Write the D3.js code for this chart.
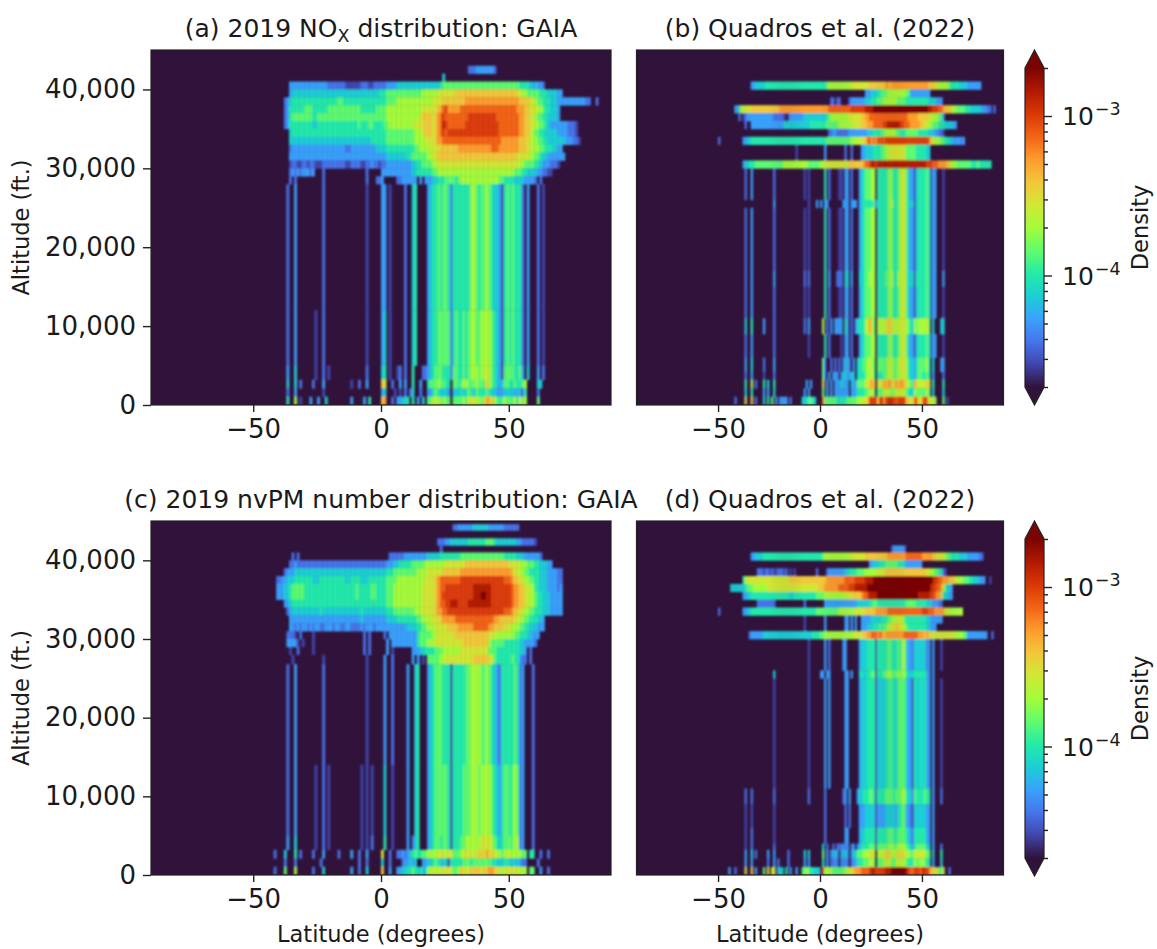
<!DOCTYPE html>
<html>
<head>
<meta charset="utf-8">
<script src="https://cdn.jsdelivr.net/npm/d3@7"></script>
<style>
body { margin: 0; background: #fff; }
text { font-family: "DejaVu Sans", sans-serif; fill: #1a1a1a; }
</style>
</head>
<body>
<div id="chart"></div>
<script>
// turbo colormap samples (matplotlib flavour, d3's own goes almost black at 0)
const turboStops = ["#30123b","#4145ab","#4675ed","#39a2fc","#1bcfd4","#24eca6","#61fc6c","#a4fc3b","#d1e834","#f3c63a","#fe9b2d","#f36315","#d93806","#b11901","#7a0402"];

// density, one character per cell: 1-9, a-e index this list, "." is nothing
const densityLevels = [2.8e-5, 3.8e-5, 5.3e-5, 7.4e-5, 1e-4, 1.4e-4, 2e-4, 2.8e-4, 3.8e-4, 5.3e-4, 7.4e-4, 1e-3, 1.4e-3, 2e-3];
const levelCodes = "123456789abcde";

const latTicks = [-50, 0, 50];
const altTicks = [0, 10000, 20000, 30000, 40000];
const cbarMajor = [1e-4, 1e-3];
const cbarMinor = [2e-5, 3e-5, 4e-5, 5e-5, 6e-5, 7e-5, 8e-5, 9e-5, 2e-4, 3e-4, 4e-4, 5e-4, 6e-4, 7e-4, 8e-4, 9e-4, 2e-3];

// rows run top to bottom between the altitude edges (kft). Each row has groups of
// 10 degrees starting at -50 latitude, "_" is an empty group.
const noxGaiaAlt = [43,42,41,40,39,38,37,36,35,34,33,32,31,30,29,28,12,5,3.2,2.1,1.05,0];
const noxGaiaRows = [
"_ _ _ _ _ _ _ _ ....222333 33332",
"_ _ _ _ _ _ _ ....4.....",
"_ ....333333 3333333332 2222221111 1122211222 2233334444 4444444444 4445666666 6666666666 6666666666 6666555543 4332",
"_ ....344444 4444444444 4444444444 4444444445 5566666666 6666667777 7788888889 9999999999 9999999999 9998877666 6655544443 3",
"_ ..23455555 5555555555 5556655555 5555555555 5566667777 7777777777 8888999999 999aaaaaaa aaaaaaaaaa aaaa999988 7665554443 3333333333 22..2",
"_ ..23555555 6665555556 6666666666 6655555566 6677777777 7777778888 889abcaaaa abbbbbbbbb bbbbbbbbbb bbbaaa9988 8776554443",
"_ ..23566666 6665566666 6666666666 6666666666 6677777777 7777789999 89abcbbbbb bbbbcccccc cccccbbbbb bbbbaa9988 7665544443",
"_ ..23555555 5554455555 5555555555 5655566555 5667777777 7778888999 89abdcbbbb bbbccccccc ccccccbbbb bbbbaa9988 7766543333 3332221",
"_ ....455555 5555555555 5555555555 5555555555 5566666666 6667778999 89abcbcccc cccccccccc ccccccbbbb bbbbaa9987 6655444443 3332221",
"_ ....444444 4444444444 4444444444 4444445555 5566666666 6667777888 89aabbbbbb bbbbbbbbbb bbbbbbbaaa aaaa999887 7665544444 44333221",
"_ ....233333 3333333333 3333332233 3333333344 4455555555 5556677778 8889999999 aaaaaaaaaa aaabbbaaaa aaaa999887 7766555443 3",
"_ ....333333 3333333333 3333333333 3333333333 3344444444 5566666677 8899999999 9999999999 9999999999 9998888877 6654433333 33",
"_ ....122112 2122111222 2222221122 2211223221 2233333333 3344556666 7788888888 8888888888 8888888888 8888776666 5543332221",
"_ ....232323 3323...2.. _ ....2..... 3333333333 3344555555 6677777777 7777777777 7777777777 7766655444 4332211",
"_ ....2.2... .......2.. _ ....2...22 3.....2233 3333.3.333 4455566665 6777777777 7777776655 5544443333 2.2",
"_ ...2..3... .......2.. _ ....1..... 33.1.....2 ..45....34 5565665255 5555577656 6765443156 565552.3.. .2.1",
"_ ...2..3... ....1..2.. _ ....1..... 34.1.....2 ..45....34 5566666256 5565677667 7776543156 565552.3.. .2.1",
"_ ...3..4... ....1..2.1 _ ....2..... 45.1..12.2 ..5...2234 5666555266 5565677767 7876543166 665563.4.. .3.2",
"_ ...4..4.2. ...2...3.. ........1. .2..3..... 98..2..3.3 ..5..3..56 6676655.66 5677666766 6976543466 5565567... .44",
"_ ...2..3... .......1.. _ _ 34...1.1.2 .24..2..33 5654443.44 4545654655 5654433344 4434325... .2",
"_ ...5..7.1. ..3..3..4. ........3. ...3.5.... 9a..2.3344 5.5.3.4.66 7876766.66 6676888776 8a99765676 6675867... .6"
];

const noxQuadrosAlt = [41,40,39,38,37,36,35,34,33,31,30,26,25,17,15,11,9,6,4.2,3.2,2.1,1.05,0];
const noxQuadrosRows = [
"_ ......3344 4445555555 5555555555 5555555555 5556777777 7777788888 8888999999 99aa9aaaaa aaaaaaaaaa aaa9998877 7776555544 443333333.",
"_ _ _ _ _ _ _ ..33344455 6667777777 7766333333 3333",
"_ _ _ _ _ .....22.22 ....233333 3344455566 6777777766 6655555555 5554444333",
"........33 5788889999 9999999999 aaaaaaaaaa aaaaaaaaaa aaaabbbbbb bbbbbccccc ccddddeeee eeeeeeeeee eeeeeeeeee eeeddcccbb a999877666 6555444443 3322.2",
"_ 2.12333333 3333333222 221.133333 3344444444 4445677777 7777888888 99aabbbbbb bbbbbbbbbb bbbaaaaa99 9998877766 3",
"_ ...2..3333 3333333333 3344444444 4444455555 5556666667 7777778888 999aaabbbb bccddddddc cbbbaaaaa9 9887766655 5444433",
"_ _ _ _ _ ....223322 2222333333 3334445555 6677777665 5566666655 5554443322 1",
"2......... ..33445555 5555555555 5555555555 5555555555 5556666666 6666677778 889bbabacb cbcccccccc cccccccccc cccb987776 6554433332 3",
"_ _ _ ........1. _ ..3....... ..2..2.... 3344445555 6677888888 8866666555 5544",
"_ ..34455566 6666666666 6677777777 7777666666 7788888888 8888999999 9abbcddcdd dddddddddd dddddddddd ddcccbbbaa aa99777666 6666555655 5555",
"_ ...2..3... .......2.. _ ..1.1..... ..5.2....1 1.33.2...3 4566677.55 5556765567 8864331455 5565133... 1",
"_ _ .......3.. _ ....1...3. 3.33...... .333.333.3 4555556255 5556775567 8864441455 5565133... 1",
"_ ...2..3... .......2.. _ ..1.1..... ..5.2....1 1.33.2...3 4566677.55 5556765567 8864331455 5565133... 1",
"_ ...2..3... .......3.. _ ..2.2..... ..5.3...22 2.44.3...4 4566777.55 5566775577 8864441555 5565133... 3",
"_ ...2..3... .......2.. _ ..1.1..... ..5.2....1 1.33.2...3 4566677.55 5556765567 8864331455 5565133... 1",
"_ ...4..5... ..3....2.. _ ..2.3..... .7.2.3.333 3.53.2.345 5578a86.77 7879987787 8876547677 7786.4...4 4",
"_ ...2..3... .......2.. _ ....1..... ..5.2..... 1.33.2...3 4566677.55 5556765567 8864331455 5565133... 1",
"_ ...3..4... ..2....3.. _ _ .62..2.2.2 .3342.3.45 5667876.66 6667876678 8875443566 6675.4...3 3",
"_ ...2..3... ..1....2.. _ _ .62.3.333. 3443344.45 5567786.55 5667876677 8875443566 5565.3.... 2",
"_ ...5..7.2. ..5.4..5.. _ ...3.3.... .8.3.3.333 4433.43366 66889a9.88 8a9aa89a9a a98765a887 8898.5.... 5",
"_ ...4..5... ..3.3..4.. _ ..3.3..... .6.3.3.333 3333.33355 5566786.66 6787767878 8765447666 6676.4.... 4",
"........2. ...8..9.2. ..4.5.6.3. 3333.2.... .4446654.. .b66666655 5556666677 7889cccc9c caccdccbcc cc9988bb88 bcb8877... 6.1"
];

const pmGaiaAlt = [44.6,43.8,42.8,41.9,41,40,39,38,37,36,35,34,33,32,31,30,29,28,26.8,14,5,3.2,2.1,1.05,0];
const pmGaiaRows = [
"_ _ _ _ _ _ _ ........22 3333334444 4433333322 2222",
"",
"_ _ _ _ _ _ _ ..22233444 4444555555 5666544444 4443322222 1",
"_ _ _ _ _ _ _ ...2",
"_ .....2.2.. _ _ _ ...2222223 3333333344 4445555555 5666666666 6666666655 5554443333 332",
"_ ....223222 2222222222 2222222222 2222222222 2233344555 5566666777 7777788888 8889999999 9999999999 8888777666 5544433",
"_ ..23334444 4444444444 4444444444 4444444444 4455566666 6666777788 8888999999 9aaaaaaaaa aaaaaaaaaa a988776655 5544433332 2",
".........2 2334445555 5554445555 5555554455 5544455555 5566667777 7777777888 89abbbbbbb bccccccccc ccccccccbb ba99887766 5544433332 2",
".........3 3344566666 5555555555 5555555555 6555556655 5566677777 7777778888 89abbccccc ccccccdddd dddccccccc cbaa998877 5544433332 3",
".........3 3344566666 5555555555 5555555555 6555556655 5566677777 7777778888 89abcccccc ccccccddde eddccccccc cbaa998877 6554443333 3",
"_ ..33455555 5555555555 5555555555 5555555555 5566677777 7777778888 89abbccddd ccccdddddd dddccccccc cbaa998877 6554443333 3",
"_ ...2344444 4444445444 4444444444 4454444444 4455566666 6667778888 89aabbcccc cccccccccc ccccccccbb ba99887766 5554443333 3",
"_ ....333333 3333333333 3333333333 3343333333 3344445555 5555667778 8889aaaaab bbbbbbbbbb bbbbaa9999 9988776655 5443",
"_ ....332323 3232332233 3233223322 2232333233 3333333333 4444556677 7888889999 aaaaaabbbb bbaa999988 8777665544 4333",
"_ ...2221.2. ...1...... _ ...2.2.... .2.3333333 3333566666 7788888889 9999999999 9988877777 7766555443 33",
"_ ...33331.1 ...1...... _ ...2.2.... ..3.333333 3333566677 7888888888 8899999999 9976666655 5555443333 2",
"_ ....1..2.. ...1...... _ ...2.2.... ..3.1..... ..33344555 5666777777 7888888888 8866655555 5555443.2.",
"_ .....1.... .......1.. _ ....1..... .3..2..... ..3.3.1.66 6667788888 8888889999 9988655555 5655322.2.",
"_ ...2..3... .......2.. _ ....1..... .3..2..... 3..45...34 5666555155 5556677776 6765432555 556523...2",
"_ ...2..3... ....1..2.1 _ ..1.1.1... .4..1..... 3..45...34 5666665155 5566677767 7776543566 567623...2",
"_ ...3..4... ....1..2.1 _ ..1.1.2... .5..1..... 3.245...34 5665665155 5667777778 8887654566 667723...2",
"........2. ..4...5.2. ...2...3.. ...2....3. .2..3..... 8..2..2232 3456556677 7788878866 6788887899 8a89877678 7777766.55 ..2..2",
"_ ..2...2... ......2... _ .2..2..... 4..2....23 3434..3344 5654441555 5566656666 6665544455 4444322... .2",
"........2. ..6...7... ...2...4.. ........3. .2..4..... 9..3..3344 5565454477 8787888866 7988899998 99aa988788 8888777.66 ..3..2"
];

const pmQuadrosAlt = [41.9,41,40,39,38,37,36,35,34,33,32,31,30,26,25,11,9,6,4,3.2,2.1,1,0];
const pmQuadrosRows = [
"_ _ _ _ _ _ _ _ .....23333 32",
"_ ......3344 4455555555 5555555555 5555555555 5677777777 7777788888 8899999999 999aaaaaaa aabbbbbbbb aaaaa99888 8766555544 4433333322",
"_ _ _ _ _ _ _ ....334445 5566666655 5433333333",
"_ .........2 2212212112 2212.1.1.. ........2. ...2333333 3344555566 6677777788 8899999999 9999999999 9988776655 21",
"_ ..57888888 8888888888 8888899999 9999999999 999aaaaaaa aabbbbbccc ccddddeeee eeeeeeeeee eeeeeeeeee eeeeedccbb aaa9998777 6665544433 3..1",
"......4444 4445666777 7777888888 8888888888 8888888889 99aaaaaaab bbbbcccddd dddeeeeeee eeeeeeeeee eeeeeeeeee eeeedccbba 86443",
"_ ..33445555 5555555555 5555544555 5555555566 6677777777 7788889999 abbcddddee eeeeeeeeee eeeeeeeedd ddddccbaa9 54433",
"_ .........2 22222222.. _ ..2....... ..33333333 3333333344 4444556655 5555555555 5566666555 5544433322",
"2......... ..33445555 5555555555 5555555555 5555555566 6666666667 7777777888 8899999aaa aaabbbbbbb bbbbbbbbbb cccbbbaaaa a887777777",
"_ _ _ _ ..1....... ..3....... ..33.3.3.. 3333344444 5556677788 7655555555 5544333333",
"_ _ _ _ ..1....... ..3....... ..33.3.3.. 3334445556 5667888998 8765555555 5544333",
".......... .....23333 3344444444 4444444444 4444445555 6677777777 7777777888 899aabbbab a9aaaaaaaa abbbbbbbaa a9a9888888 8888887777 6633333333 33..2",
"_ _ _ _ ....1..... ..3.2..... .33......3 4445555155 5556655565 7743324444 4423.3...1",
"_ _ .......4.. _ ....1..... 33.33..... ..33.3...4 5445566155 5667766676 7754445555 5533.3....",
"_ _ .......1.. _ ....1..... ..3.3..... ..33.....3 4445555144 4455655466 6643315445 4533.3...1",
"_ ...2..2... .......2.. _ ....2..... ..2....... .23.3...34 4555665155 5566665666 7754426555 5655.3...2",
"_ ...1..1... .......1.. _ _ ..2....... ..2.2....3 3344444133 3344444355 6633214444 4433.3....",
"_ ...1..2... .......1.. _ _ ..2....... ..33.....3 4455555155 5556665566 6654325555 5533.3....",
"_ ...1..2... .......2.. _ _ .4.2..2.22 2323.23.33 5555666166 6666776677 7765435666 6644.3...2",
"_ ...3..4.2. ....3..3.. ....2..... ..4.4..... .6.3.3343. 4343.34466 6777897.78 7899877897 9877668878 8766.4...5",
"_ ...3..3... ....2..3.2 ....2..... ..3.3..... .5.3.2232. 3232.23355 5666786.66 6778766787 8765557667 7655.3...4",
".....3..2. ...8..9.3. ..6.8.88.4 44.5.3..3. .667655444 .c77776666 6677889aaa bbbbcddccc ccdddeeeee eedcbbcccb dccb998866 8..2"
];

const width = 1157, height = 949;
const svg = d3.select("#chart").append("svg").attr("width", width).attr("height", height)
    .style("display", "block");

const defs = svg.append("defs");
const blur = defs.append("filter").attr("id", "soft")
    .attr("x", "-2%").attr("y", "-2%").attr("width", "104%").attr("height", "104%");
blur.append("feGaussianBlur").attr("stdDeviation", "0.9 1.3");

const turbo = d3.piecewise(d3.interpolateRgb, turboStops);
const norm = d3.scaleLog().domain([2e-5, 2e-3]).range([0, 1]).clamp(true);
const color = d => turbo(norm(d));

const grad = defs.append("linearGradient").attr("id", "cbarGrad")
    .attr("x1", 0).attr("x2", 0).attr("y1", 1).attr("y2", 0);
turboStops.forEach((c, i) => grad.append("stop")
    .attr("offset", i / (turboStops.length - 1)).attr("stop-color", c));

function rowCells(rows, alts) {
    const cells = [];
    rows.forEach((row, r) => {
        const chars = row.split(" ").map(g => g === "_" ? ".........." : g).join("");
        Array.from(chars).forEach((ch, i) => {
            const k = levelCodes.indexOf(ch);
            if (k < 0) return;
            cells.push({ lat: -50 + i, top: alts[r] * 1000, bottom: alts[r + 1] * 1000, value: densityLevels[k] });
        });
    });
    return cells;
}

function drawPanel(p) {
    const x = d3.scaleLinear().domain([-90, 90]).range([p.x0, p.x1]);
    const y = d3.scaleLinear().domain([0, 45000]).range([p.y1, p.y0]);
    const g = svg.append("g");
    const clipId = "clip" + p.id;
    defs.append("clipPath").attr("id", clipId).append("rect")
        .attr("x", p.x0).attr("y", p.y0).attr("width", p.x1 - p.x0).attr("height", p.y1 - p.y0);

    g.append("rect").attr("x", p.x0).attr("y", p.y0)
        .attr("width", p.x1 - p.x0).attr("height", p.y1 - p.y0)
        .attr("fill", turboStops[0]);

    g.append("g").attr("clip-path", `url(#${clipId})`)
        .append("g").attr("filter", "url(#soft)")
        .selectAll("rect")
        .data(rowCells(p.rows, p.alts))
        .join("rect")
        .attr("x", d => x(d.lat))
        .attr("width", d => x(d.lat + 1) - x(d.lat) + 0.3)
        .attr("y", d => y(d.top))
        .attr("height", d => y(d.bottom) - y(d.top) + 0.3)
        .attr("fill", d => color(d.value));

    g.append("rect").attr("x", p.x0).attr("y", p.y0)
        .attr("width", p.x1 - p.x0).attr("height", p.y1 - p.y0)
        .attr("fill", "none").attr("stroke", "#222").attr("stroke-width", 1.2);

    const xAxis = g.append("g").attr("transform", `translate(0,${p.y1})`)
        .call(d3.axisBottom(x).tickValues(latTicks).tickSize(7).tickPadding(8));
    styleAxis(xAxis, 26);

    if (p.showY) {
        const yAxis = g.append("g").attr("transform", `translate(${p.x0},0)`)
            .call(d3.axisLeft(y).tickValues(altTicks).tickFormat(d3.format(",")).tickSize(8).tickPadding(7));
        styleAxis(yAxis, 26);
        g.append("text")
            .attr("transform", `translate(22,${(p.y0 + p.y1) / 2}) rotate(-90)`)
            .attr("text-anchor", "middle").attr("dominant-baseline", "middle")
            .attr("font-size", 22.5).text("Altitude (ft.)");
    }

    const title = g.append("text").attr("x", (p.x0 + p.x1) / 2).attr("y", p.y0 - 13)
        .attr("text-anchor", "middle").attr("font-size", 25);
    title.append("tspan").text(p.title);
    if (p.sub) {
        title.append("tspan").attr("dy", 5).attr("font-size", 17.5).text(p.sub);
        title.append("tspan").attr("dy", -5).text(p.tail);
    }
    if (p.xlabel) {
        g.append("text").attr("x", (p.x0 + p.x1) / 2).attr("y", p.y1 + 67)
            .attr("text-anchor", "middle").attr("font-size", 22.5).text("Latitude (degrees)");
    }
}

function styleAxis(a, size) {
    a.select(".domain").remove();
    a.selectAll(".tick line").attr("stroke", "#222").attr("stroke-width", 1.4);
    a.selectAll("text").attr("font-size", size).attr("font-family", '"DejaVu Sans", sans-serif').attr("fill", "#1a1a1a");
}

function drawColorbar(dy) {
    const cx0 = 1025, cx1 = 1044, top = 68 + dy, bottom = 387 + dy;
    const g = svg.append("g");
    const y = d3.scaleLog().domain([2e-5, 2e-3]).range([bottom, top]);
    const mid = (cx0 + cx1) / 2;

    g.append("path").attr("d", `M${cx0},${top} L${mid},${top - 18} L${cx1},${top} Z`).attr("fill", turboStops[14]);
    g.append("path").attr("d", `M${cx0},${bottom} L${mid},${bottom + 18} L${cx1},${bottom} Z`).attr("fill", turboStops[0]);
    g.append("rect").attr("x", cx0).attr("y", top).attr("width", cx1 - cx0).attr("height", bottom - top)
        .attr("fill", "url(#cbarGrad)");
    g.append("path")
        .attr("d", `M${cx0},${top} L${mid},${top - 18} L${cx1},${top} L${cx1},${bottom} L${mid},${bottom + 18} L${cx0},${bottom} Z`)
        .attr("fill", "none").attr("stroke", "#222").attr("stroke-width", 1.2);

    const minor = g.append("g").attr("transform", `translate(${cx1},0)`)
        .call(d3.axisRight(y).tickValues(cbarMinor).tickFormat("").tickSize(4));
    styleAxis(minor, 10);
    const major = g.append("g").attr("transform", `translate(${cx1},0)`)
        .call(d3.axisRight(y).tickValues(cbarMajor).tickFormat("").tickSize(8));
    styleAxis(major, 10);

    cbarMajor.forEach(v => {
        const t = g.append("text").attr("x", 1062).attr("y", y(v) + 9).attr("font-size", 25);
        t.append("tspan").text("10");
        t.append("tspan").attr("dy", -10).attr("dx", 1).attr("font-size", 17.5)
            .text("\u2212" + Math.abs(Math.round(Math.log10(v))));
    });

    g.append("text").attr("transform", `translate(1141,${(top + bottom) / 2}) rotate(-90)`)
        .attr("text-anchor", "middle").attr("dominant-baseline", "middle")
        .attr("font-size", 22.5).text("Density");
}

const panels = [
    { id: "a", x0: 151, x1: 611, y0: 50, y1: 405, showY: true, rows: noxGaiaRows, alts: noxGaiaAlt,
      title: "(a) 2019 NO", sub: "X", tail: " distribution: GAIA" },
    { id: "b", x0: 636.5, x1: 1003.5, y0: 50, y1: 405, rows: noxQuadrosRows, alts: noxQuadrosAlt,
      title: "(b) Quadros et al. (2022)" },
    { id: "c", x0: 151, x1: 611, y0: 521, y1: 875, showY: true, xlabel: true, rows: pmGaiaRows, alts: pmGaiaAlt,
      title: "(c) 2019 nvPM number distribution: GAIA" },
    { id: "d", x0: 636.5, x1: 1003.5, y0: 521, y1: 875, xlabel: true, rows: pmQuadrosRows, alts: pmQuadrosAlt,
      title: "(d) Quadros et al. (2022)" }
];
panels.forEach(drawPanel);
drawColorbar(0);
drawColorbar(471);
</script>
</body>
</html>
